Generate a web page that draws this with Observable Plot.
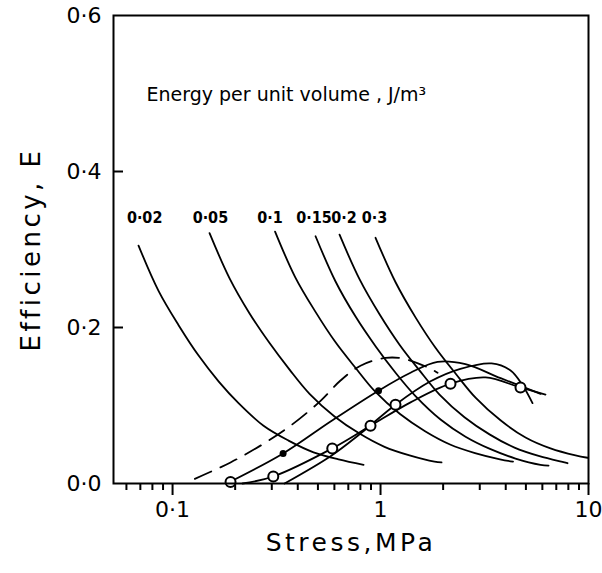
<!DOCTYPE html>
<html><head><meta charset="utf-8">
<script src="https://cdn.jsdelivr.net/npm/d3@7"></script>
<script src="https://cdn.jsdelivr.net/npm/@observablehq/plot@0.6"></script>
<style>body{margin:0;background:#fff} #chart svg{display:block}</style>
</head><body><div id="chart"></div>
<script>
// Energy per unit volume curves (J/m^3)
const energyLabels = ["0·02", "0·05", "0·1", "0·15", "0·2", "0·3"];
const energyLabelX = [0.0734, 0.152, 0.294, 0.479, 0.668, 0.936];
const energyLabelY = [0.34, 0.34, 0.34, 0.34, 0.34, 0.34];

const e002X = [0.0686, 0.0856, 0.1069, 0.1334, 0.1664, 0.2076, 0.2738, 0.3611, 0.4763, 0.6283, 0.8286];
const e002Y = [0.305, 0.247, 0.203, 0.164, 0.131, 0.103, 0.074, 0.055, 0.040, 0.031, 0.024];
const e005X = [0.1506, 0.188, 0.2346, 0.2927, 0.3652, 0.4557, 0.6009, 0.7923, 1.045, 1.379, 1.818, 1.965];
const e005Y = [0.321, 0.263, 0.218, 0.180, 0.146, 0.115, 0.086, 0.064, 0.047, 0.036, 0.028, 0.027];
const e01X = [0.3111, 0.388, 0.4843, 0.6042, 0.7542, 0.9409, 1.241, 1.637, 2.159, 2.847, 3.754, 4.335];
const e01Y = [0.323, 0.265, 0.221, 0.182, 0.149, 0.118, 0.089, 0.067, 0.050, 0.039, 0.031, 0.028];
const e015X = [0.487, 0.6077, 0.7583, 0.9462, 1.181, 1.473, 1.943, 2.563, 3.381, 4.457, 5.879, 6.425];
const e015Y = [0.317, 0.259, 0.214, 0.176, 0.142, 0.112, 0.082, 0.060, 0.044, 0.032, 0.024, 0.023];
const e02X = [0.6352, 0.7923, 0.989, 1.234, 1.539, 1.921, 2.533, 3.342, 4.408, 5.812, 7.665, 7.925];
const e02Y = [0.319, 0.262, 0.217, 0.178, 0.145, 0.114, 0.085, 0.063, 0.046, 0.035, 0.027, 0.026];
const e03X = [0.9462, 1.181, 1.473, 1.838, 2.294, 2.863, 3.775, 4.98, 6.567, 8.66, 9.89];
const e03Y = [0.315, 0.258, 0.213, 0.174, 0.141, 0.110, 0.081, 0.059, 0.045, 0.036, 0.033];

// Rising efficiency curves
const dashX = [0.128, 0.190, 0.274, 0.369, 0.515, 0.642, 0.801, 1.057, 1.29, 1.683, 1.88];
const dashY = [0.006, 0.027, 0.051, 0.074, 0.106, 0.132, 0.151, 0.161, 0.160, 0.149, 0.142];
const r1X = [0.182, 0.340, 0.575, 0.978, 1.394, 1.88, 2.56, 3.78, 5.88];
const r1Y = [0.0, 0.0385, 0.0795, 0.119, 0.142, 0.156, 0.153, 0.135, 0.115];
const r2X = [0.217, 0.305, 0.586, 0.895, 1.394, 2.17, 3.20, 4.71, 6.21];
const r2Y = [0.0, 0.009, 0.045, 0.074, 0.104, 0.128, 0.136, 0.123, 0.114];
const r3X = [0.3455, 0.575, 0.801, 1.18, 1.74, 2.42, 3.42, 4.22, 4.82, 5.38];
const r3Y = [0.0, 0.035, 0.064, 0.101, 0.131, 0.147, 0.154, 0.145, 0.126, 0.103];

// Measured points
const filledX = [0.340, 0.978];
const filledY = [0.0385, 0.119];
const openX = [0.19, 0.305, 0.586, 0.895, 1.18, 2.17, 4.71];
const openY = [0.002, 0.009, 0.045, 0.074, 0.101, 0.128, 0.123];

// Axes
const xMajor = [0.1, 1, 10];
const xMinor = [0.06, 0.07, 0.08, 0.09, 0.2, 0.3, 0.4, 0.5, 0.6, 0.7, 0.8, 0.9, 2, 3, 4, 5, 6, 7, 8, 9];
const yMajor = [0, 0.2, 0.4, 0.6];
const yInner = [0.2, 0.4];
const noteText = "Energy per unit volume , J/m³";
const xTitle = "Stress,MPa";
const yTitle = "Efficiency, E";

const toRows = (name, xs, ys) => xs.map((x, i) => ({series: name, x, y: ys[i]}));
const energyRows = [
  ...toRows("0.02", e002X, e002Y), ...toRows("0.05", e005X, e005Y),
  ...toRows("0.1", e01X, e01Y), ...toRows("0.15", e015X, e015Y),
  ...toRows("0.2", e02X, e02Y), ...toRows("0.3", e03X, e03Y)
];
const risingRows = [...toRows("r1", r1X, r1Y), ...toRows("r2", r2X, r2Y), ...toRows("r3", r3X, r3Y)];
const dashRows = toRows("dash", dashX, dashY);
const filledRows = toRows("f", filledX, filledY);
const openRows = toRows("o", openX, openY);
const labelRows = energyLabels.map((t, i) => ({t, x: energyLabelX[i], y: energyLabelY[i]}));

const fmt = d => String(d).replace(".", "·");
const fmtY = d => d.toFixed(1).replace(".", "·");
const font = "DejaVu Sans, sans-serif";

const chart = Plot.plot({
  width: 602, height: 573,
  marginLeft: 113, marginRight: 14, marginTop: 15, marginBottom: 90,
  x: {type: "log", domain: [0.052, 10]},
  y: {domain: [0, 0.6]},
  style: {fontFamily: font, background: "white", color: "black"},
  marks: [
    Plot.line(energyRows, {x: "x", y: "y", z: "series", curve: "catmull-rom", stroke: "black", strokeWidth: 1.8}),
    Plot.line(risingRows, {x: "x", y: "y", z: "series", curve: "catmull-rom", stroke: "black", strokeWidth: 1.8}),
    Plot.line(dashRows, {x: "x", y: "y", curve: "catmull-rom", stroke: "black", strokeWidth: 1.8, strokeDasharray: "18,10"}),
    Plot.dot(openRows, {x: "x", y: "y", r: 5, fill: "white", stroke: "black", strokeWidth: 2}),
    Plot.dot(filledRows, {x: "x", y: "y", r: 3.5, fill: "black"}),
    Plot.text(labelRows, {x: "x", y: "y", text: "t", fontSize: 16, fontWeight: "bold", fontFamily: "DejaVu Sans Condensed, DejaVu Sans, sans-serif", fill: "black"}),
    Plot.text([noteText], {frameAnchor: "top-left", dx: 33, dy: 72, text: d => d, textAnchor: "start", fontSize: 19, fill: "black"}),
    Plot.frame({stroke: "black", strokeWidth: 2}),
    Plot.tickY(yInner, {y: d => d, insetRight: 465, stroke: "black", strokeWidth: 2}),
    Plot.axisX(xMinor, {tickSize: 7, tickFormat: () => "", strokeWidth: 2, label: null}),
    Plot.axisX(xMajor, {tickSize: 12, tickPadding: 6, tickFormat: fmt, fontSize: 22, strokeWidth: 2, label: null}),
    Plot.axisY(yMajor, {tickSize: 0, tickPadding: 12, tickFormat: fmtY, fontSize: 22, label: null}),
    Plot.text([xTitle], {frameAnchor: "bottom", textAnchor: "middle", dy: 67, text: d => d, fontSize: 25, fill: "black"}),
    Plot.text([yTitle], {frameAnchor: "left", textAnchor: "middle", dx: -82, rotate: -90, text: d => d, fontSize: 26, fill: "black"})
  ]
});
// letter spacing of the axis titles, as in the reference
d3.select(chart).selectAll("text")
  .filter(function() { return this.textContent === xTitle; })
  .style("letter-spacing", "3.5px");
d3.select(chart).selectAll("text")
  .filter(function() { return this.textContent === yTitle; })
  .style("letter-spacing", "3.5px");
document.getElementById("chart").append(chart);
</script></body></html>
